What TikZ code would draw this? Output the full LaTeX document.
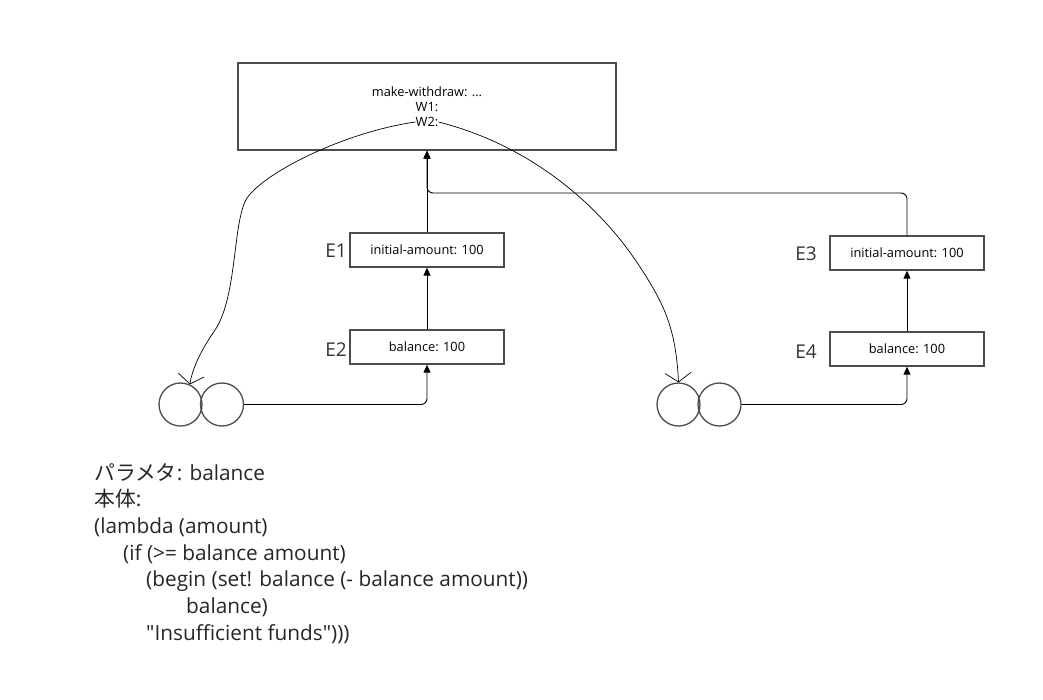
\documentclass[tikz,border=0pt]{standalone}
\usepackage{fontspec}
\setmainfont{Open Sans}
\newfontfamily\plainfont{Open Sans}
\newfontfamily\jpfont{Noto Sans CJK JP}
\usetikzlibrary{arrows.meta}
\begin{document}
\begin{tikzpicture}[x=1pt,y=-1pt,
  envbox/.style={draw=black!70,line width=1.3pt,minimum width=154pt,minimum height=34pt,inner sep=0pt,font=\fontsize{12.8}{15}\selectfont},
  small/.style={inner sep=0pt,font=\fontsize{12.8}{15}\selectfont},
  elabel/.style={inner sep=0pt,font=\fontsize{19}{22}\selectfont,text=black!80},
  obj/.style={draw=black!70,line width=1.3pt,circle,minimum size=43pt,inner sep=0pt},
  conn/.style={line width=0.9pt,black,rounded corners=6pt,-{Triangle[width=7pt,length=8pt]}},
  ptr/.style={line width=0.7pt,black,-{Straight Barb[length=9pt,width=26pt,line width=0.7pt]}},
  code/.style={inner sep=0pt,anchor=base west,font=\fontsize{20.8}{24}\selectfont,text=black!85}]
\useasboundingbox (0,0) rectangle (1043,699);
% top global frame
\node[draw=black!70,line width=1.3pt,minimum width=378pt,minimum height=87pt,inner sep=0pt] (glob) at (427,106.5) {};
\node[small] (mw) at (427,92) {make-withdraw: ...};
\node[small] (w1) at (427,107) {W1:};
\node[small] (w2) at (427,122) {W2:};
% environments
\node[envbox] (e1) at (427,250) {initial-amount: 100};
\node[envbox] (e2) at (427,347) {balance: 100};
\node[envbox] (e3) at (907,253) {initial-amount: 100};
\node[envbox] (e4) at (907,349) {balance: 100};
\node[elabel] (l1) at (336,251) {E1};
\node[elabel] (l2) at (336,350) {E2};
\node[elabel] (l3) at (806,254) {E3};
\node[elabel] (l4) at (806,352) {E4};
% procedure objects
\node[obj] (c1) at (180.5,404.5) {};
\node[obj] (c2) at (222,404.5) {};
\node[obj] (c3) at (678.5,404.5) {};
\node[obj] (c4) at (719.5,404.5) {};
% env pointers
\draw[conn] (e1.north) -- (glob.south);
\draw[conn] (e2.north) -- (e1.south);
\draw[conn] (e4.north) -- (e3.south);
\draw[conn] (e3.north) |- (427,193) -- (glob.south);
\draw[conn] (c2.east) -| (e2.south);
\draw[conn] (c4.east) -| (e4.south);
% W2 pointers
\draw[ptr] (w2.west) .. controls (345,132) and (265,172) .. (247,198)
  .. controls (232,222) and (238,300) .. (213,333)
  .. controls (200,352) and (192,370) .. (c1.65);
\draw[ptr] (w2.east) .. controls (530,145) and (600,205) .. (640,267)
  .. controls (665,305) and (676,330) .. (c3.north);
% code text
\node[code] (t1) at (94,480) {{\jpfont パラメタ}: balance};
\node[code] (t2) at (94,506.5) {{\jpfont 本体}:};
\node[code] (t3) at (94,533) {(lambda (amount)};
\node[code] (t4) at (123,560) {(if (>= balance amount)};
\node[code] (t5) at (146,586.5) {(begin (set! balance (- balance amount))};
\node[code] (t6) at (186,613) {balance)};
\node[code] (t7) at (146,640) {\plainfont "Insufficient funds")))};
\end{tikzpicture}
\end{document}
